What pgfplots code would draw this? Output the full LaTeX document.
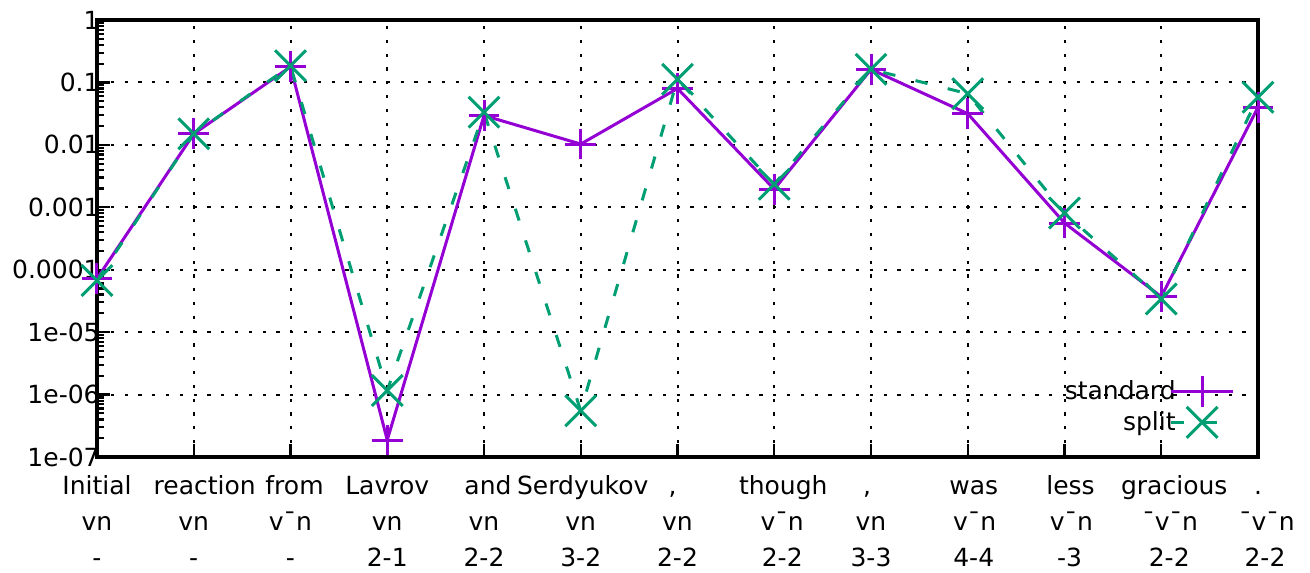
\documentclass[border=0pt]{standalone}
\usepackage{fontspec}
\setmainfont{DejaVu Sans}
\usepackage{pgfplots}
\pgfplotsset{compat=1.18}
\definecolor{cpurple}{RGB}{148,0,211}
\definecolor{cgreen}{RGB}{0,158,115}
\begin{document}
\begin{tikzpicture}
\begin{axis}[
  scale only axis, width=580.5bp, height=218.5bp,
  xmin=0, xmax=12, ymode=log, ymin=1e-7, ymax=1,
  xtick={0,...,12},
  xticklabels={
    {\strut Initial\\vn\\-},
    {\strut\hspace*{11bp}reaction\\vn\\-},
    {\strut\hspace*{4bp}from\\v¯n\\-},
    {\strut Lavrov\\vn\\2-1},
    {\strut\hspace*{4bp}and\\vn\\2-2},
    {\strut\hspace*{2bp}Serdyukov\\vn\\3-2},
    {\strut{,}\hspace*{5bp}\\vn\\2-2},
    {\strut\hspace*{9bp}though\\\hspace*{8bp}v¯n\\\hspace*{8bp}2-2},
    {\strut{,}\hspace*{4bp}\\vn\\3-3},
    {\strut\hspace*{6bp}was\\\hspace*{7bp}v¯n\\\hspace*{6bp}4-4},
    {\strut\hspace*{6bp}less\\\hspace*{7bp}v¯n\\\hspace*{5bp}-3},
    {\strut\hspace*{13bp}gracious\\\hspace*{9bp}¯v¯n\\\hspace*{8bp}2-2},
    {\strut .\\\hspace*{9bp}¯v¯n\\\hspace*{7bp}2-2}},
  ytick={1e-7,1e-6,1e-5,1e-4,1e-3,1e-2,1e-1,1},
  yticklabels={1e-07,1e-06,1e-05,0.0001,0.001,0.01,0.1,1},
  minor ytick={2e-7,3e-7,4e-7,5e-7,6e-7,7e-7,8e-7,9e-7,2e-6,3e-6,4e-6,5e-6,6e-6,7e-6,8e-6,9e-6,2e-5,3e-5,4e-5,5e-5,6e-5,7e-5,8e-5,9e-5,2e-4,3e-4,4e-4,5e-4,6e-4,7e-4,8e-4,9e-4,2e-3,3e-3,4e-3,5e-3,6e-3,7e-3,8e-3,9e-3,2e-2,3e-2,4e-2,5e-2,6e-2,7e-2,8e-2,9e-2,2e-1,3e-1,4e-1,5e-1,6e-1,7e-1,8e-1,9e-1},
  xmajorgrids, ymajorgrids,
  major grid style={black, line width=1bp, dash pattern=on 1.6bp off 5.3bp},
  axis line style={line width=1.6bp},
  tick style={black, line width=1.1bp},
  major tick length=6.5bp, minor tick length=3.3bp,
  tick align=inside, tick pos=left,
  every tick label/.append style={font=\fontsize{12.5bp}{18bp}\selectfont},
  xticklabel style={align=center, anchor=north, inner sep=0pt, yshift=-5.9bp},
  yticklabel style={anchor=east, inner sep=0pt, xshift=1.5bp},
  clip=false,
  legend plot pos=right,
  legend cell align=right,
  legend style={draw=none, fill=none, at={(0.9854,0.034)}, anchor=south east,
    font=\fontsize{12.5bp}{15bp}\selectfont, row sep=0pt, column sep=-4bp,
    nodes={inner sep=1pt}},
  legend image code/.code={\draw[mark repeat=2,mark phase=2,#1] plot coordinates {(0bp,0bp) (15.5bp,0bp) (31bp,0bp)};},
]
\addplot[cpurple, line width=1.5bp, mark=+, mark size=7.7bp, mark options={solid, line width=1.5bp}] coordinates {
(0,7.2e-5) (1,0.015) (2,0.178) (3,1.87e-7) (4,0.0295) (5,0.0103) (6,0.08)
(7,0.00195) (8,0.162) (9,0.0316) (10,5.6e-4) (11,3.7e-5) (12,0.04)};
\addlegendentry{standard}
\addplot[cgreen, line width=1.5bp, dash pattern=on 6.2bp off 10.4bp, mark=x, mark size=10.9bp, mark options={solid, line width=1.5bp}] coordinates {
(0,6.7e-5) (1,0.015) (2,0.185) (3,1.16e-6) (4,0.0334) (5,5.5e-7) (6,0.112)
(7,0.00234) (8,0.162) (9,0.066) (10,8.1e-4) (11,3.4e-5) (12,0.058)};
\addlegendentry{split}
\end{axis}
\pgfresetboundingbox
\useasboundingbox (-48.5bp,-58bp) rectangle (606.5bp,228.5bp);
\end{tikzpicture}
\end{document}
